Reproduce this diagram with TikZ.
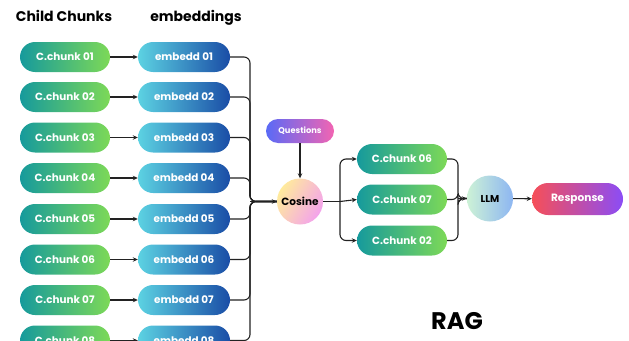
\documentclass[tikz,border=0pt]{standalone}
\usepackage{fontspec}
\setmainfont{Poppins}
\usetikzlibrary{arrows.meta}
\definecolor{chL}{HTML}{169A9C}
\definecolor{chR}{HTML}{7DD957}
\definecolor{emL}{HTML}{5CD2E2}
\definecolor{emR}{HTML}{1A4DA6}
\definecolor{qL}{HTML}{5A6AF6}
\definecolor{qR}{HTML}{F264B2}
\definecolor{coL}{HTML}{FFEB9C}
\definecolor{coR}{HTML}{F3A2EC}
\definecolor{llL}{HTML}{CDF2D6}
\definecolor{llR}{HTML}{8DB6F2}
\definecolor{reL}{HTML}{F64F58}
\definecolor{reR}{HTML}{8B4DF6}
\definecolor{ln}{HTML}{222222}
\tikzset{
  pill/.style={rounded corners=15pt, minimum width=90pt, minimum height=30pt, inner sep=0pt,
    text=white, font=\bfseries\fontsize{10.4}{11}\selectfont},
  chunkbox/.style={pill, left color=chL, right color=chR},
  embbox/.style={pill, left color=emL, right color=emR, minimum width=92pt},
  conn/.style={draw=ln, line width=1.1pt, -{Stealth[length=5pt,width=4.5pt]}},
  plain/.style={draw=ln, line width=1.1pt},
  hdr/.style={font=\bfseries\fontsize{14}{15}\selectfont, text=black},
}
\begin{document}
\begin{tikzpicture}[x=1pt,y=-1pt]
\useasboundingbox (0,0) rectangle (629,340);
\clip (0,0) rectangle (629,340);
\node[hdr] (h1) at (64,16) {Child Chunks};
\node[hdr] (h2) at (196,18) {embeddings};
\node[circle, minimum size=46pt, inner sep=0pt, shading=axis, left color=coL, right color=coR, shading angle=60,
  font=\bfseries\fontsize{10.5}{11}\selectfont] (cos) at (300,201.5) {Cosine};
\coordinate (bus) at (250,201.5);
\foreach \i/\y in {1/57,2/97,3/137.5,4/178,5/219,6/259.5,7/300,8/340.5}{
  \node[chunkbox] (c\i) at (65,\y) {C.chunk 0\i};
  \node[embbox] (e\i) at (184,\y) {embedd 0\i};
  \draw[conn] (c\i) -- (e\i);
  \draw[plain, rounded corners=6pt] (e\i.east) -| (bus) -- (cos.west);
}
\draw[conn] (bus) -- (cos.west);
\node[rounded corners=12pt, minimum width=68pt, minimum height=24pt, inner sep=0pt, left color=qL, right color=qR,
  text=white, font=\bfseries\fontsize{8.3}{9}\selectfont] (q) at (300,131) {Questions};
\draw[conn] (q) -- (cos);
\node[chunkbox] (r1) at (402,159) {C.chunk 06};
\node[chunkbox] (r2) at (402,199.5) {C.chunk 07};
\node[chunkbox] (r3) at (402,240.5) {C.chunk 02};
\coordinate (br) at (340,201.5);
\draw[plain] (cos.east) -- (br);
\draw[conn, rounded corners=6pt] (br) |- (r1.west);
\draw[conn] (br) -- (r2.west);
\draw[conn, rounded corners=6pt] (br) |- (r3.west);
\node[circle, minimum size=46pt, inner sep=0pt, left color=llL, right color=llR,
  font=\bfseries\fontsize{10}{11}\selectfont] (llm) at (490,198.5) {LLM};
\coordinate (jn) at (458,198.5);
\foreach \r in {r1,r2,r3}{
  \draw[plain, rounded corners=6pt] (\r.east) -| (jn) -- (llm.west);
}
\draw[conn] (jn) -- (llm.west);
\node[pill, minimum width=91pt, minimum height=32pt, rounded corners=16pt, left color=reL, right color=reR,
  font=\bfseries\fontsize{10.6}{11}\selectfont] (resp) at (577.5,199) {Response};
\draw[conn] (llm) -- (resp);
\node[font=\bfseries\fontsize{24}{26}\selectfont] (rag) at (457,321) {RAG};
\end{tikzpicture}
\end{document}
